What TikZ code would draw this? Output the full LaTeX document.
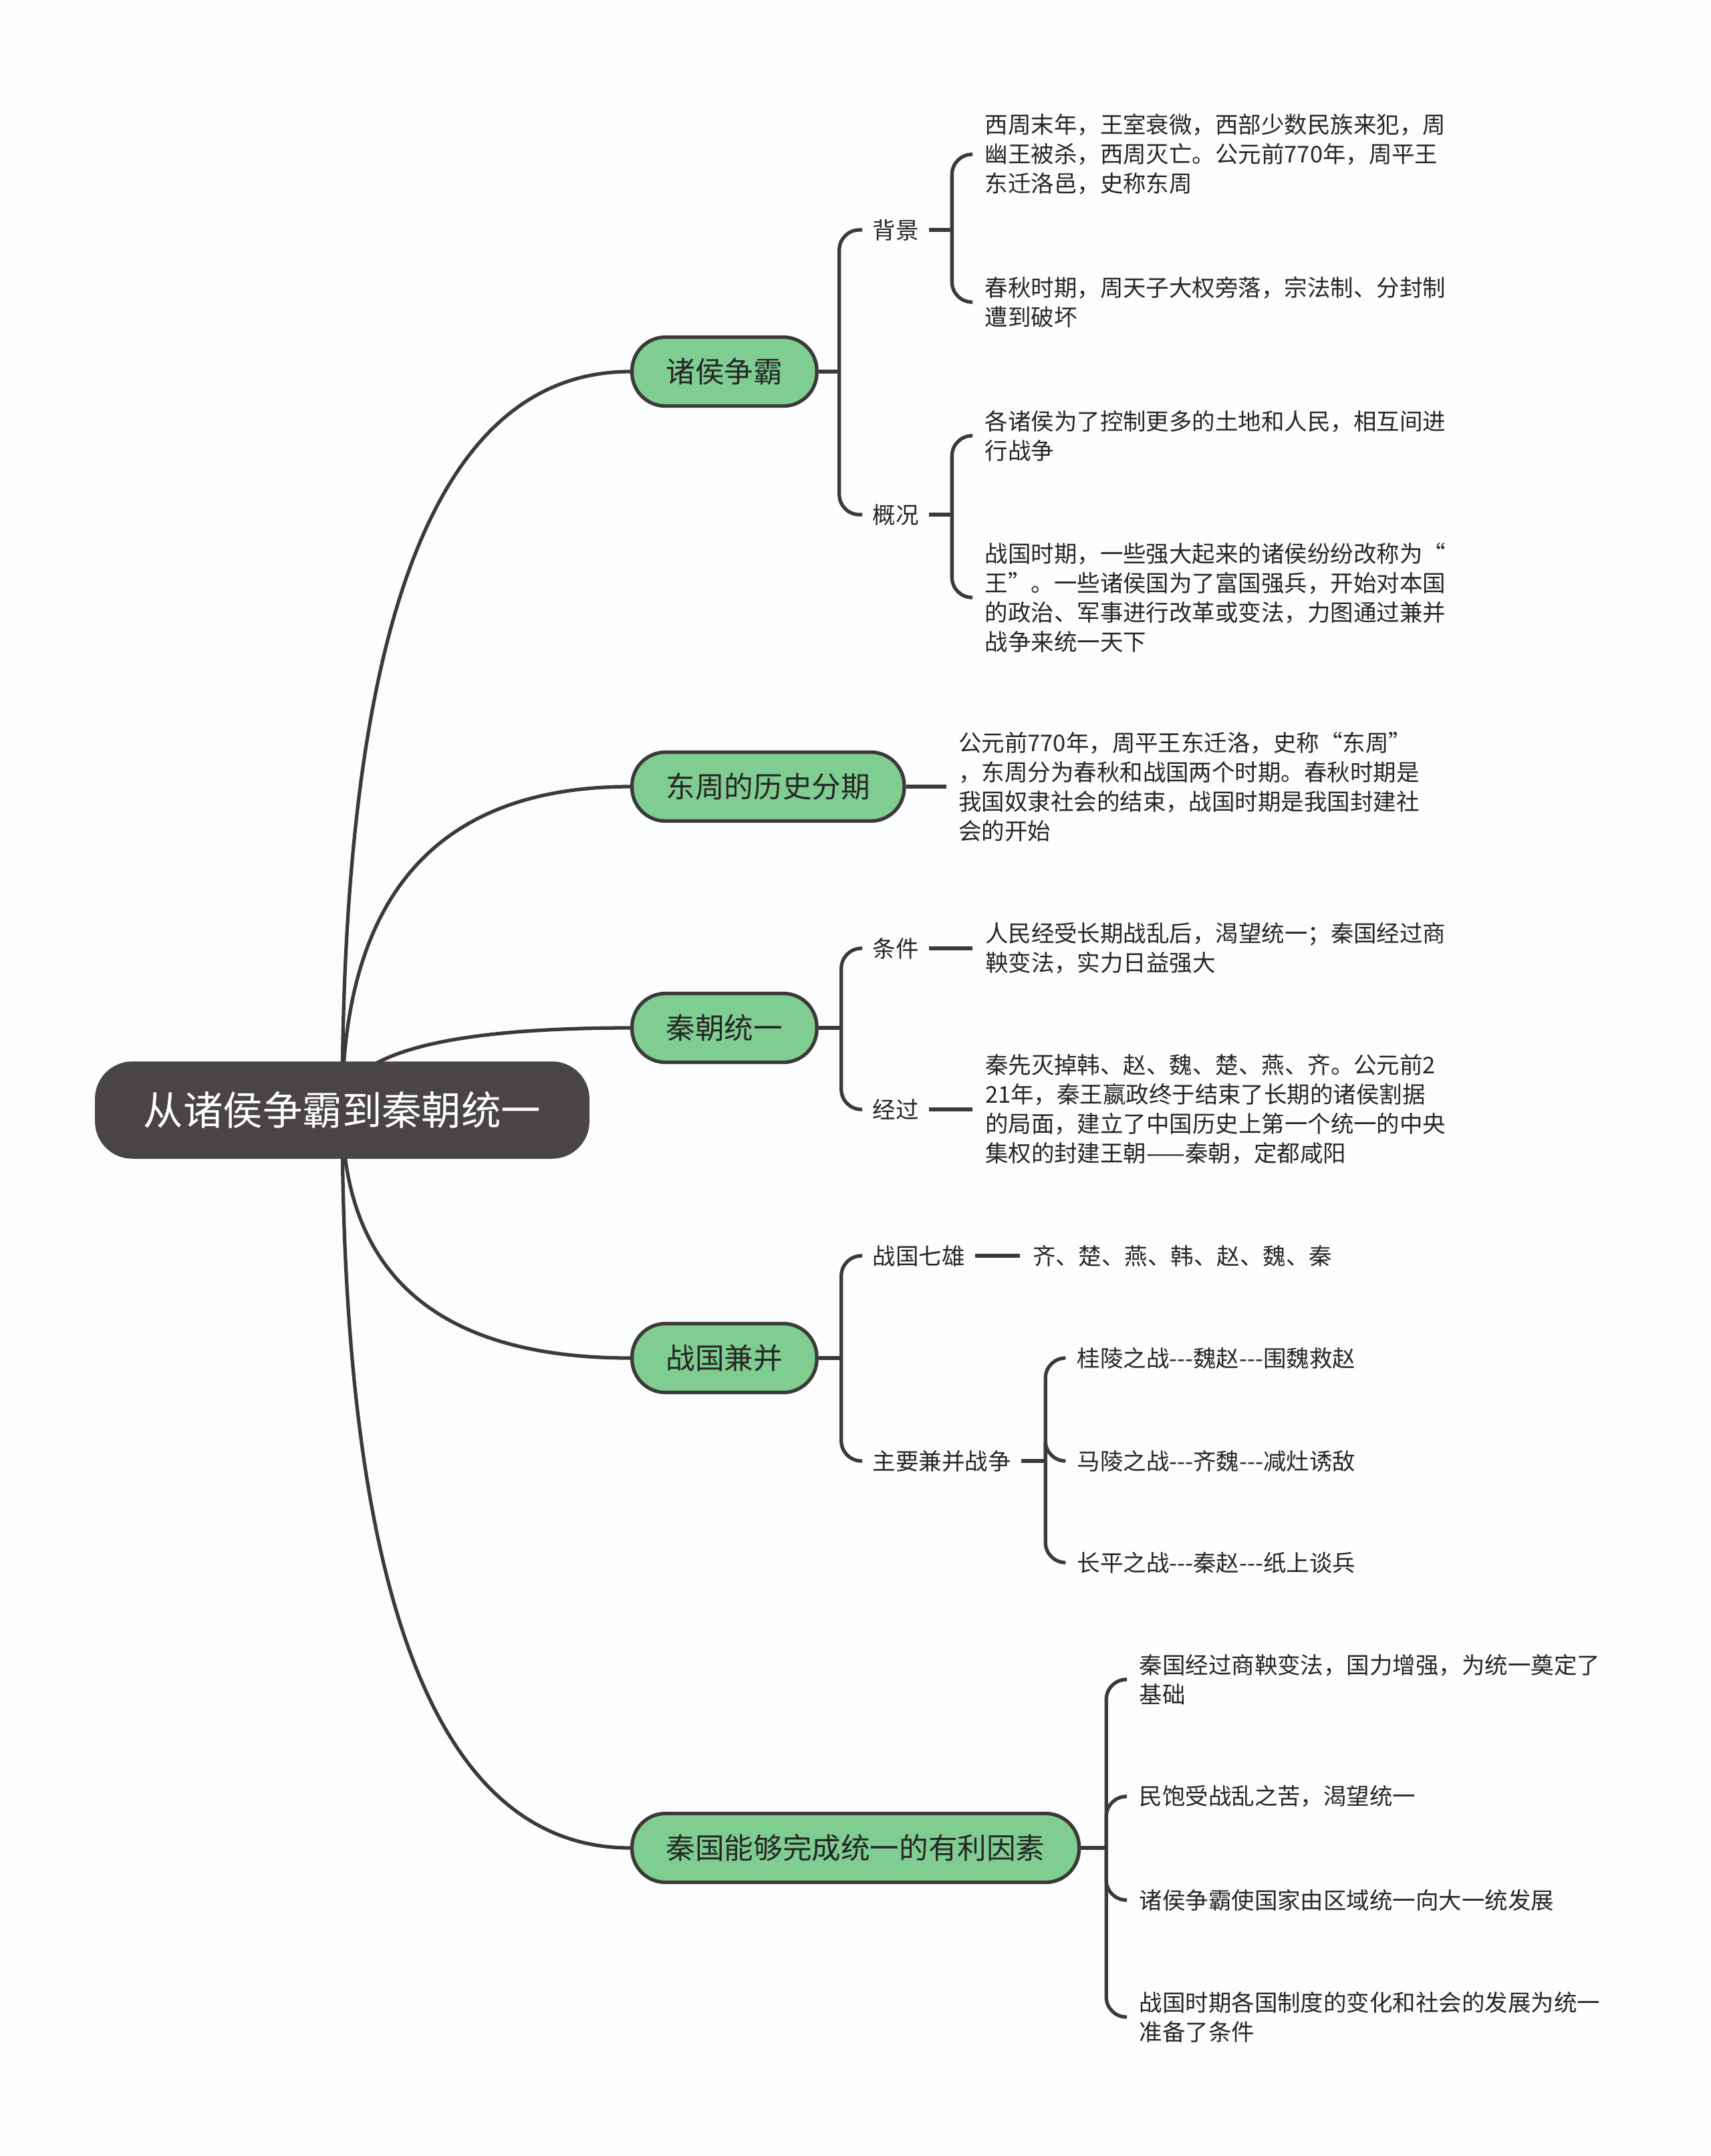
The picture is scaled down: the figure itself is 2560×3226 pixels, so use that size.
\documentclass[tikz,border=0pt]{standalone}
\usepackage{fontspec}
\setmainfont{Noto Sans CJK SC}[Ligatures=TeXOff]
\usepackage{tikz}
\usetikzlibrary{positioning}
\definecolor{bgpaper}{RGB}{251,253,254}
\definecolor{topicgreen}{RGB}{128,205,145}
\definecolor{rootgray}{RGB}{74,69,69}
\definecolor{linegray}{RGB}{61,57,57}
\definecolor{inkgray}{RGB}{38,38,38}

\begin{document}
\begin{tikzpicture}[
    x=0.01cm, y=-0.01cm,
    central/.style={
        fill=rootgray,
        draw=rootgray,
        rounded corners=5.5mm,
        minimum height=14.4mm,
        inner xsep=7.2mm,
        text=white,
        font=\fontsize{16.9}{20}\selectfont
    },
    topic/.style={
        fill=topicgreen,
        draw=linegray,
        line width=1.5pt,
        rounded corners=5mm,
        minimum height=10.3mm,
        inner xsep=5.1mm,
        text=inkgray,
        font=\fontsize{12.4}{15}\selectfont,
        anchor=west
    },
    sub/.style={
        inner xsep=1.5mm,
        inner ysep=1mm,
        text=inkgray,
        font=\fontsize{9.8}{12.5}\selectfont,
        anchor=west
    },
    leaf/.style={
        align=left,
        inner xsep=1.8mm,
        inner ysep=1mm,
        text=inkgray,
        font=\fontsize{9.8}{12.5}\selectfont,
        anchor=west
    },
    link/.style={draw=linegray, line width=1.5pt},
    elbow/.style={link, rounded corners=3mm}
]

\fill[bgpaper] (0,0) rectangle (2560,3226);
\useasboundingbox (0,0) rectangle (2560,3226);

\coordinate (hub) at (512,1661);

% main topics
\node[topic] (zhu) at (943,556) {诸侯争霸};
\node[topic] (dong) at (943,1177) {东周的历史分期};
\node[topic] (qin) at (943,1538) {秦朝统一};
\node[topic] (zhan) at (943,2032) {战国兼并};
\node[topic] (li) at (943,2765) {秦国能够完成统一的有利因素};

\draw[link] (hub) .. controls +(0,-737) and +(-287,0) .. (zhu.west);
\draw[link] (hub) .. controls +(0,-323) and +(-287,0) .. (dong.west);
\draw[link] (hub) .. controls +(0,-82) and +(-287,0) .. (qin.west);
\draw[link] (hub) .. controls +(0,247) and +(-287,0) .. (zhan.west);
\draw[link] (hub) .. controls +(0,736) and +(-287,0) .. (li.west);

\node[central] (root) at (hub) {从诸侯争霸到秦朝统一};

% 诸侯争霸
\node[sub] (bj) at (1290,344) {背景};
\node[sub] (gk) at (1290,770) {概况};
\draw[link] (zhu.east) -- ++(31,0) coordinate (zhuB);
\draw[elbow] (zhuB) |- (bj.west);
\draw[elbow] (zhuB) |- (gk.west);

\node[leaf] (bj1) at (1455,231) {西周末年，王室衰微，西部少数民族来犯，周\\幽王被杀，西周灭亡。公元前770年，周平王\\东迁洛邑，史称东周};
\node[leaf] (bj2) at (1455,452) {春秋时期，周天子大权旁落，宗法制、分封制\\遭到破坏};
\draw[link] (bj.east) -- ++(34,0) coordinate (bjB);
\draw[elbow] (bjB) |- (bj1.west);
\draw[elbow] (bjB) |- (bj2.west);

\node[leaf] (gk1) at (1455,652) {各诸侯为了控制更多的土地和人民，相互间进\\行战争};
\node[leaf] (gk2) at (1455,894) {战国时期，一些强大起来的诸侯纷纷改称为“\\王”。一些诸侯国为了富国强兵，开始对本国\\的政治、军事进行改革或变法，力图通过兼并\\战争来统一天下};
\draw[link] (gk.east) -- ++(34,0) coordinate (gkB);
\draw[elbow] (gkB) |- (gk1.west);
\draw[elbow] (gkB) |- (gk2.west);

% 东周的历史分期
\node[leaf, right=6mm of dong] (dong1) {公元前770年，周平王东迁洛，史称“东周”\\，东周分为春秋和战国两个时期。春秋时期是\\我国奴隶社会的结束，战国时期是我国封建社\\会的开始};
\draw[link] (dong.east) -- (dong1.west);

% 秦朝统一
\node[sub] (tj) at (1290,1419) {条件};
\node[sub] (jg) at (1290,1660) {经过};
\draw[link] (qin.east) -- ++(34,0) coordinate (qinB);
\draw[elbow] (qinB) |- (tj.west);
\draw[elbow] (qinB) |- (jg.west);

\node[leaf, right=6.5mm of tj] (tj1) {人民经受长期战乱后，渴望统一；秦国经过商\\鞅变法，实力日益强大};
\node[leaf, right=6.5mm of jg] (jg1) {秦先灭掉韩、赵、魏、楚、燕、齐。公元前2\\21年，秦王嬴政终于结束了长期的诸侯割据\\的局面，建立了中国历史上第一个统一的中央\\集权的封建王朝——秦朝，定都咸阳};
\draw[link] (tj.east) -- (tj1.west);
\draw[link] (jg.east) -- (jg1.west);

% 战国兼并
\node[sub] (qx) at (1290,1879) {战国七雄};
\node[sub] (zy) at (1290,2186) {主要兼并战争};
\draw[link] (zhan.east) -- ++(34,0) coordinate (zhanB);
\draw[elbow] (zhanB) |- (qx.west);
\draw[elbow] (zhanB) |- (zy.west);

\node[leaf, right=6.7mm of qx] (qx1) {齐、楚、燕、韩、赵、魏、秦};
\draw[link] (qx.east) -- (qx1.west);

\node[leaf] (zy1) at (1593,2032) {桂陵之战---魏赵---围魏救赵};
\node[leaf] (zy2) at (1593,2186) {马陵之战---齐魏---减灶诱敌};
\node[leaf] (zy3) at (1593,2338) {长平之战---秦赵---纸上谈兵};
\draw[link] (zy.east) -- ++(36,0) coordinate (zyB);
\draw[elbow] (zyB) |- (zy1.west);
\draw[elbow] (zyB) |- (zy2.west);
\draw[elbow] (zyB) |- (zy3.west);

% 有利因素
\node[leaf] (li1) at (1686,2513) {秦国经过商鞅变法，国力增强，为统一奠定了\\基础};
\node[leaf] (li2) at (1686,2688) {民饱受战乱之苦，渴望统一};
\node[leaf] (li3) at (1686,2843) {诸侯争霸使国家由区域统一向大一统发展};
\node[leaf] (li4) at (1686,3018) {战国时期各国制度的变化和社会的发展为统一\\准备了条件};
\draw[link] (li.east) -- ++(38,0) coordinate (liB);
\draw[elbow] (liB) |- (li1.west);
\draw[elbow] (liB) |- (li2.west);
\draw[elbow] (liB) |- (li3.west);
\draw[elbow] (liB) |- (li4.west);

\end{tikzpicture}
\end{document}
